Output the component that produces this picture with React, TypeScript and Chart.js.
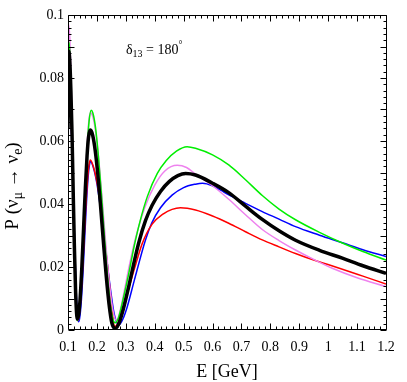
import React, { useEffect, useRef } from "react";
import { Chart, registerables } from "chart.js";

Chart.register(...registerables);

// ---- tick labels ----
const xMajorTicks = [0.1, 0.2, 0.3, 0.4, 0.5, 0.6, 0.7, 0.8, 0.9, 1.0, 1.1, 1.2];
const yMajorTicks = [0, 0.02, 0.04, 0.06, 0.08, 0.1];

// ---- series (E in GeV, P) ----
const blackE = [0.1, 0.101, 0.1025, 0.106, 0.11, 0.114, 0.118, 0.122, 0.126, 0.129, 0.1325, 0.137, 0.142, 0.148, 0.154, 0.16, 0.166, 0.171, 0.1768, 0.183, 0.192, 0.202, 0.212, 0.222, 0.232, 0.242, 0.252, 0.264, 0.275, 0.29, 0.31, 0.328, 0.345, 0.368, 0.391, 0.42, 0.45, 0.48, 0.507, 0.541, 0.6, 0.656, 0.714, 0.772, 0.83, 0.887, 0.97, 1.049, 1.12, 1.2];
const blackP = [0.064, 0.08, 0.0885, 0.0857, 0.076, 0.062, 0.0437, 0.0267, 0.013, 0.0063, 0.0035, 0.005, 0.01, 0.0201, 0.0325, 0.045, 0.0554, 0.0612, 0.0635, 0.0626, 0.0584, 0.0505, 0.0401, 0.0285, 0.0174, 0.0082, 0.0021, 0.0005, 0.0018, 0.0062, 0.0138, 0.0213, 0.0278, 0.0347, 0.0396, 0.044, 0.0471, 0.049, 0.0497, 0.0492, 0.0466, 0.0436, 0.0393, 0.0351, 0.0315, 0.0285, 0.0253, 0.0228, 0.0204, 0.018];

const greenE = [0.1, 0.101, 0.1025, 0.106, 0.11, 0.114, 0.118, 0.122, 0.126, 0.129, 0.132, 0.137, 0.143, 0.149, 0.155, 0.161, 0.167, 0.173, 0.18, 0.186, 0.195, 0.205, 0.215, 0.225, 0.235, 0.245, 0.254, 0.263, 0.275, 0.29, 0.31, 0.328, 0.35, 0.375, 0.409, 0.44, 0.475, 0.512, 0.541, 0.6, 0.656, 0.714, 0.772, 0.83, 0.887, 0.97, 1.049, 1.12, 1.2];
const greenP = [0.076, 0.087, 0.0915, 0.0885, 0.078, 0.0622, 0.0437, 0.0258, 0.0117, 0.0052, 0.003, 0.0048, 0.0113, 0.0216, 0.0343, 0.0472, 0.0585, 0.0663, 0.0698, 0.0689, 0.0644, 0.0554, 0.0438, 0.0309, 0.0188, 0.0092, 0.0039, 0.0023, 0.004, 0.0095, 0.0178, 0.0262, 0.0348, 0.0425, 0.0497, 0.0538, 0.0568, 0.0582, 0.0577, 0.0556, 0.0524, 0.0477, 0.0427, 0.0384, 0.035, 0.031, 0.0276, 0.0249, 0.0222];

const violetE = [0.1, 0.101, 0.102, 0.106, 0.11, 0.114, 0.118, 0.122, 0.126, 0.129, 0.1315, 0.137, 0.143, 0.149, 0.155, 0.161, 0.167, 0.173, 0.178, 0.186, 0.196, 0.208, 0.22, 0.232, 0.244, 0.256, 0.268, 0.28, 0.295, 0.31, 0.332, 0.366, 0.4, 0.435, 0.478, 0.51, 0.541, 0.6, 0.656, 0.714, 0.772, 0.83, 0.887, 0.95, 1.014, 1.1, 1.2];
const violetP = [0.085, 0.094, 0.097, 0.093, 0.081, 0.064, 0.0445, 0.026, 0.0115, 0.0055, 0.003, 0.0049, 0.0119, 0.0229, 0.036, 0.0491, 0.0601, 0.0671, 0.069, 0.0677, 0.0627, 0.0525, 0.0394, 0.0258, 0.014, 0.0059, 0.003, 0.006, 0.0125, 0.0195, 0.0286, 0.039, 0.046, 0.0505, 0.0523, 0.0516, 0.0495, 0.0458, 0.0415, 0.0366, 0.0319, 0.0284, 0.0254, 0.0224, 0.0196, 0.0166, 0.0138];

const redE = [0.1, 0.101, 0.1027, 0.106, 0.11, 0.114, 0.118, 0.122, 0.126, 0.13, 0.1335, 0.138, 0.144, 0.15, 0.156, 0.162, 0.168, 0.173, 0.1775, 0.188, 0.2, 0.212, 0.224, 0.236, 0.248, 0.255, 0.261, 0.272, 0.285, 0.305, 0.33, 0.357, 0.391, 0.43, 0.46, 0.489, 0.541, 0.6, 0.656, 0.714, 0.772, 0.83, 0.887, 0.95, 1.002, 1.049, 1.12, 1.2];
const redP = [0.05, 0.07, 0.081, 0.0788, 0.0708, 0.0581, 0.0428, 0.0273, 0.0143, 0.0057, 0.003, 0.0043, 0.0098, 0.0188, 0.0294, 0.0399, 0.0483, 0.0527, 0.054, 0.0518, 0.047, 0.04, 0.031, 0.021, 0.0105, 0.004, 0.001, 0.002, 0.0055, 0.0115, 0.0195, 0.0275, 0.0336, 0.0369, 0.0383, 0.0388, 0.0381, 0.0362, 0.0339, 0.0312, 0.0286, 0.0264, 0.0243, 0.0222, 0.0207, 0.0193, 0.0171, 0.0146];

const blueE = [0.1, 0.101, 0.1028, 0.106, 0.111, 0.116, 0.121, 0.126, 0.131, 0.1363, 0.14, 0.146, 0.152, 0.158, 0.164, 0.17, 0.174, 0.178, 0.188, 0.2, 0.212, 0.224, 0.236, 0.248, 0.26, 0.276, 0.29, 0.305, 0.33, 0.368, 0.39, 0.42, 0.46, 0.5, 0.541, 0.565, 0.6, 0.628, 0.656, 0.714, 0.772, 0.83, 0.887, 0.97, 1.049, 1.12, 1.2];
const blueP = [0.042, 0.064, 0.076, 0.074, 0.0655, 0.051, 0.034, 0.0185, 0.0073, 0.0026, 0.0036, 0.0091, 0.0184, 0.0296, 0.0406, 0.049, 0.0523, 0.0535, 0.0515, 0.0465, 0.039, 0.0305, 0.021, 0.0122, 0.005, 0.0016, 0.0035, 0.0074, 0.016, 0.0286, 0.034, 0.0388, 0.0428, 0.0452, 0.0463, 0.0466, 0.0458, 0.0444, 0.0429, 0.0402, 0.0376, 0.0352, 0.0328, 0.0301, 0.0277, 0.0255, 0.0233];

const SERIF = "'Liberation Serif', 'DejaVu Serif', serif";

const toPts = (xs: number[], ys: number[]) => xs.map((x, i) => ({ x, y: ys[i] }));
const fmt = (v: number) => String(Math.round(v * 1000) / 1000);

type Part = { t: string; s: number; dy?: number };

function drawRich(ctx: CanvasRenderingContext2D, parts: Part[], x: number, y: number, center: boolean) {
  let total = 0;
  for (const p of parts) {
    ctx.font = `${p.s}px ${SERIF}`;
    total += ctx.measureText(p.t).width;
  }
  let cx = center ? x - total / 2 : x;
  for (const p of parts) {
    ctx.font = `${p.s}px ${SERIF}`;
    ctx.fillText(p.t, cx, y + (p.dy || 0));
    cx += ctx.measureText(p.t).width;
  }
}

const framePlugin = {
  id: "frameTicks",
  afterDraw(chart: any) {
    const { ctx, chartArea: a, scales } = chart;
    const xs = scales.x;
    const ys = scales.y;
    const L = Math.round(a.left) + 0.5;
    const R = Math.round(a.right) + 0.5;
    const T = Math.round(a.top) + 0.5;
    const B = Math.round(a.bottom) - 0.5;
    ctx.save();
    ctx.strokeStyle = "#000";
    ctx.lineWidth = 1;
    ctx.beginPath();
    ctx.rect(L, T, R - L, B - T);
    ctx.stroke();
    ctx.beginPath();
    for (let i = 0; i <= 55; i++) {
      const px = Math.round(xs.getPixelForValue(0.1 + i * 0.02)) + 0.5;
      const len = i % 5 === 0 ? 6 : 3;
      ctx.moveTo(px, B);
      ctx.lineTo(px, B - len);
      ctx.moveTo(px, T);
      ctx.lineTo(px, T + len);
    }
    for (let i = 0; i <= 50; i++) {
      const py = Math.round(ys.getPixelForValue(i * 0.002)) + 0.5;
      const len = i % 5 === 0 ? 6 : 3;
      ctx.moveTo(L, py);
      ctx.lineTo(L + len, py);
      ctx.moveTo(R, py);
      ctx.lineTo(R - len, py);
    }
    ctx.stroke();

    ctx.fillStyle = "#000";
    ctx.textBaseline = "alphabetic";
    ctx.textAlign = "left";
    // x title
    drawRich(ctx, [{ t: "E [GeV]", s: 18 }], (a.left + a.right) / 2, 377, true);
    // annotation
    drawRich(
      ctx,
      [
        { t: "δ", s: 14 },
        { t: "13", s: 10, dy: 3 },
        { t: " = 180", s: 14 },
        { t: "°", s: 10, dy: -6 },
      ],
      126,
      53.5,
      false
    );
    // y title (rotated)
    ctx.translate(17.5, 186);
    ctx.rotate(-Math.PI / 2);
    drawRich(
      ctx,
      [
        { t: "P (ν", s: 19 },
        { t: "μ", s: 14, dy: 4 },
        { t: " → ν", s: 19 },
        { t: "e", s: 14, dy: 4 },
        { t: ")", s: 19 },
      ],
      0,
      0,
      true
    );
    ctx.restore();
  },
};

export default function App() {
  const ref = useRef<HTMLCanvasElement | null>(null);

  useEffect(() => {
    if (!ref.current) return;
    const mk = (label: string, xs: number[], ys: number[], color: string, width: number, order: number) => ({
      label,
      data: toPts(xs, ys),
      borderColor: color,
      backgroundColor: color,
      borderWidth: width,
      pointRadius: 0,
      fill: false,
      cubicInterpolationMode: "monotone" as const,
      order,
    });
    const chart = new Chart(ref.current, {
      type: "line",
      data: {
        datasets: [
          mk("black", blackE, blackP, "#000000", 3.5, 0),
          mk("green", greenE, greenP, "#00ee00", 1.5, 1),
          mk("violet", violetE, violetP, "#ee82ee", 1.5, 2),
          mk("red", redE, redP, "#ff0000", 1.5, 3),
          mk("blue", blueE, blueP, "#0000ff", 1.5, 4),
        ],
      },
      options: {
        animation: false,
        responsive: false,
        events: [],
        layout: { padding: { left: 0, top: 15, right: 21, bottom: 0 } },
        plugins: { legend: { display: false }, tooltip: { enabled: false }, title: { display: false } },
        scales: {
          x: {
            type: "linear",
            min: 0.1,
            max: 1.2,
            grid: { display: false, drawTicks: false },
            border: { display: false },
            afterBuildTicks: (s: any) => {
              s.ticks = xMajorTicks.map((v) => ({ value: v }));
            },
            afterFit: (s: any) => {
              s.height = 52;
            },
            ticks: {
              autoSkip: false,
              maxRotation: 0,
              padding: 9,
              color: "#000",
              font: { family: SERIF, size: 14 },
              callback: (v: any) => fmt(Number(v)),
            },
          },
          y: {
            type: "linear",
            min: 0,
            max: 0.1,
            grid: { display: false, drawTicks: false },
            border: { display: false },
            afterBuildTicks: (s: any) => {
              s.ticks = yMajorTicks.map((v) => ({ value: v }));
            },
            afterFit: (s: any) => {
              s.width = 68;
            },
            ticks: {
              autoSkip: false,
              padding: 4,
              color: "#000",
              font: { family: SERIF, size: 14 },
              callback: (v: any) => fmt(Number(v)),
            },
          },
        },
      },
      plugins: [framePlugin],
    });
    return () => chart.destroy();
  }, []);

  return (
    <div style={{ position: "absolute", left: 0, top: 0, width: 407, height: 382, background: "#fff" }}>
      <canvas ref={ref} width={407} height={382} style={{ display: "block", width: 407, height: 382 }} />
    </div>
  );
}
